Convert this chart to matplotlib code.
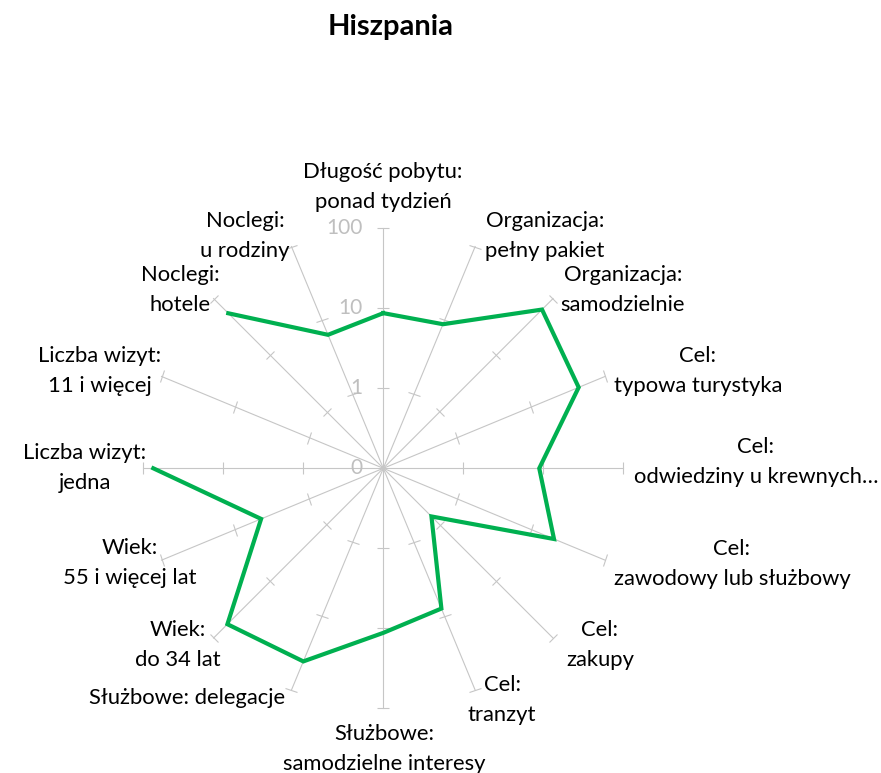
import numpy as np
import matplotlib
matplotlib.use("Agg")
import matplotlib.pyplot as plt
from matplotlib.markers import MarkerStyle
from matplotlib.transforms import Affine2D, offset_copy

plt.rcParams['font.family'] = ['Lato', 'DejaVu Sans']

# data (log scale, Excel shows the axis minimum 0.1 as "0")
categories = [
    "Długość pobytu:\nponad tydzień",
    "Organizacja:\npełny pakiet",
    "Organizacja:\nsamodzielnie",
    "Cel:\ntypowa turystyka",
    "Cel:\nodwiedziny u krewnych…",
    "Cel:\nzawodowy lub służbowy",
    "Cel:\nzakupy",
    "Cel:\ntranzyt",
    "Służbowe:\nsamodzielne interesy",
    "Służbowe: delegacje",
    "Wiek:\ndo 34 lat",
    "Wiek:\n55 i więcej lat",
    "Liczba wizyt:\njedna",
    "Liczba wizyt:\n11 i więcej",
    "Noclegi:\nhotele",
    "Noclegi:\nu rodziny",
]
values = [8.7, 8.9, 64, 44, 8.9, 20.4, 0.71, 7.9, 11.4, 41, 57, 4.5, 75, np.nan, 55, 6.4]
r_ticks = [0.1, 1, 10, 100]
r_tick_labels = ["0", "1", "10", "100"]

# label centres in pixels (layout only)
label_pos = [(383, 187), (545, 236), (623, 290), (698, 371), (756, 462), (732, 564),
             (600, 645), (502, 700), (384, 749), (187, 698), (178, 645), (130, 563),
             (85, 468), (100, 371), (180, 290), (245, 236)]

W, H = 881, 773
fig = plt.figure(figsize=(W / 100, H / 100), dpi=100)
cx, cy, R = 383.3, 468.3, 240
ax = fig.add_axes([(cx - R) / W, (H - cy - R) / H, 2 * R / W, 2 * R / H], projection='polar')
ax.set_theta_zero_location('N')
ax.set_theta_direction(-1)
ax.set_rscale('log')
ax.set_rlim(0.1, 100)
ax.grid(False)
ax.spines['polar'].set_visible(False)
ax.set_xticks([])
ax.set_yticks([])
ax.patch.set_alpha(0)

n = len(categories)
angles = np.arange(n) * 2 * np.pi / n
grey = '#c6c6c6'
for i, a in enumerate(angles):
    ax.plot([a, a], [0.1, 100], color=grey, lw=0.8, clip_on=False, zorder=1)
    m = MarkerStyle('_', transform=Affine2D().rotate_deg(-np.degrees(a)))
    ax.plot([a] * 3, r_ticks[1:], ls='none', marker=m, ms=9, mew=0.8,
            color=grey, clip_on=False, zorder=1)

vals = np.array(values + values[:1])
ang = np.append(angles, angles[0])
ax.plot(ang, vals, color='#00b050', lw=3, clip_on=False, zorder=3,
        solid_joinstyle='miter')

off = offset_copy(ax.transData, fig=fig, x=-21, y=0, units='dots')
for r, t in zip(r_ticks, r_tick_labels):
    ax.text(0, r, t, transform=off, ha='right', va='center', fontsize=15,
            color='#bfbfbf', zorder=2)

for lab, (x, y) in zip(categories, label_pos):
    fig.text(x / W, 1 - y / H, lab, ha='center', va='center', fontsize=15.8,
             linespacing=1.62, color='#000000')

fig.text(391 / W, 1 - 27 / H, "Hiszpania", ha='center', va='center',
         fontsize=21, fontweight='bold')

fig.savefig("out.png", dpi=100)
